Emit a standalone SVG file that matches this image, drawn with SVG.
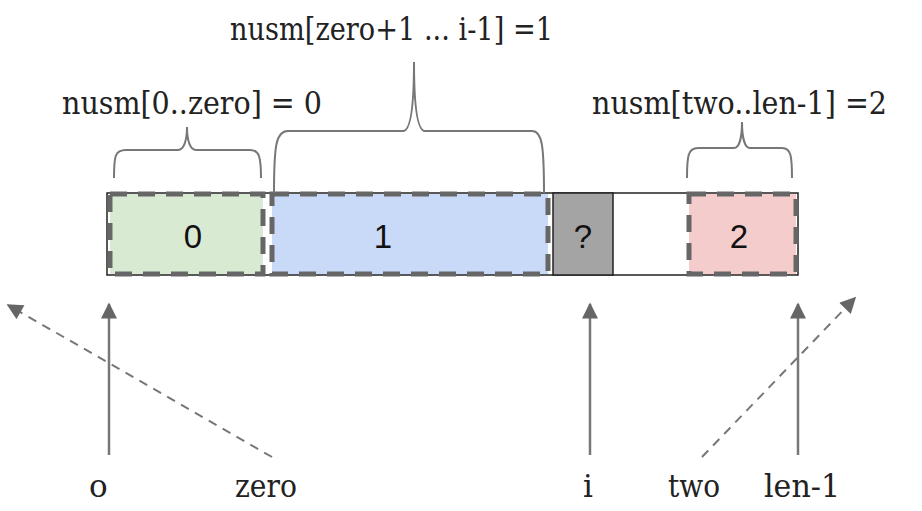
<svg xmlns="http://www.w3.org/2000/svg" width="922" height="511" viewBox="0 0 922 511">
<defs>
<style>
.lbl{font-family:"DejaVu Serif","Liberation Serif",serif;font-size:31px;fill:#222}
.cell{font-family:"Liberation Sans",Arial,sans-serif;font-size:33px;fill:#111;text-anchor:middle}
.dash{stroke:#666;stroke-width:5;stroke-dasharray:17 11;fill-opacity:1}
.brace{fill:none;stroke:#777;stroke-width:2}
.arr{stroke:#777;stroke-width:2.5;fill:none}
.arrd{stroke:#777;stroke-width:2;fill:none;stroke-dasharray:9 7}
</style>
<marker id="ah2" viewBox="0 0 10 10" refX="9" refY="5" markerWidth="18" markerHeight="16" markerUnits="userSpaceOnUse" orient="auto">
<path d="M0,0 L10,5 L0,10 z" fill="#666"/>
</marker>
</defs>
<rect width="922" height="511" fill="#fff"/>
<g id="array">
<rect x="107" y="193" width="691" height="82" fill="#fff" stroke="#222" stroke-width="1.5"/>
</g>
<g id="cell0">
<rect x="110" y="194" width="153" height="80" fill="#d9ead3" class="dash"/>
<text x="193" y="248" class="cell">0</text>
</g>
<g id="cell1">
<rect x="272" y="194" width="276" height="80" fill="#c9daf8" class="dash"/>
<text x="383" y="248" class="cell">1</text>
</g>
<g id="cellq">
<rect x="553" y="193" width="60" height="82" fill="#a4a4a4" stroke="#222" stroke-width="1.5"/>
<text x="583" y="248" class="cell">?</text>
</g>
<g id="cell2">
<rect x="689" y="194" width="107" height="80" fill="#f4cccc" class="dash"/>
<text x="739" y="248" class="cell">2</text>
</g>
<g id="braces">
<path class="brace" d="M114,178 C114,156 115,150 126,150 L178,150 C184,150 187,140 187,127 C187,140 190,150 196,150 L250,150 C259,150 261,156 261,178"/>
<path class="brace" d="M274,193 C274,145 276,131 288,131 L403,131 C410,131 414,110 414,62 C414,110 418,131 425,131 L532,131 C542,131 544,145 544,193"/>
<path class="brace" d="M687,178 C687,156 688,148 698,148 L734,148 C739,148 742,138 742,122 C742,138 745,148 750,148 L782,148 C791,148 792,156 792,178"/>
</g>
<g id="labels">
<text x="230" y="40" class="lbl" textLength="323" lengthAdjust="spacingAndGlyphs">nusm[zero+1 ... i-1] =1</text>
<text x="62" y="114" class="lbl" textLength="260" lengthAdjust="spacingAndGlyphs">nusm[0..zero] = 0</text>
<text x="592" y="114" class="lbl" textLength="295" lengthAdjust="spacingAndGlyphs">nusm[two..len-1] =2</text>
<text x="89" y="497" class="lbl">o</text>
<text x="235" y="497" class="lbl" textLength="62" lengthAdjust="spacingAndGlyphs">zero</text>
<text x="583" y="497" class="lbl">i</text>
<text x="668" y="497" class="lbl" textLength="52" lengthAdjust="spacingAndGlyphs">two</text>
<text x="764" y="497" class="lbl" textLength="76" lengthAdjust="spacingAndGlyphs">len-1</text>
</g>
<g id="connectors">
<line x1="109" y1="455" x2="109" y2="304" class="arr" marker-end="url(#ah2)"/>
<line x1="590" y1="455" x2="590" y2="304" class="arr" marker-end="url(#ah2)"/>
<line x1="798" y1="455" x2="798" y2="304" class="arr" marker-end="url(#ah2)"/>
<line x1="272" y1="457" x2="8" y2="305" class="arrd" marker-end="url(#ah2)"/>
<line x1="702" y1="457" x2="855" y2="298" class="arrd" marker-end="url(#ah2)"/>
</g>
</svg>
